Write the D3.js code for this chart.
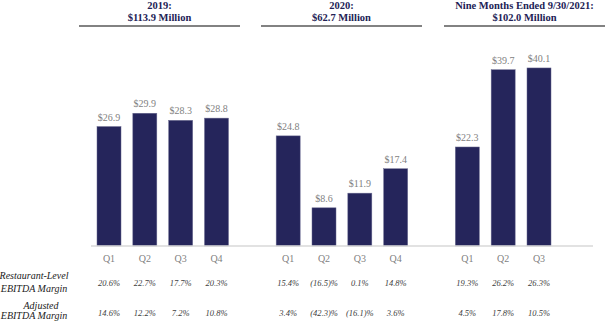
<!DOCTYPE html>
<html><head><meta charset="utf-8">
<script src="https://cdn.jsdelivr.net/npm/d3@7/dist/d3.min.js"></script>
<style>body{margin:0;background:#fff}svg{display:block}svg text{font-family:"Liberation Serif","Times New Roman","DejaVu Serif",serif}</style>
</head><body>
<svg id="c" width="605" height="324"></svg>
<script>
// ---- data ----
const periods = ["2019", "2020", "2021"];
const periodTitles = ["2019:", "2020:", "Nine Months Ended 9/30/2021:"];
const periodTotals = ["$113.9 Million", "$62.7 Million", "$102.0 Million"];
const quarters2019 = ["Q1", "Q2", "Q3", "Q4"];
const quarters2020 = ["Q1", "Q2", "Q3", "Q4"];
const quarters2021 = ["Q1", "Q2", "Q3"];
const values2019 = [26.9, 29.9, 28.3, 28.8];
const values2020 = [24.8, 8.6, 11.9, 17.4];
const values2021 = [22.3, 39.7, 40.1];
const rlMargin2019 = ["20.6%", "22.7%", "17.7%", "20.3%"];
const rlMargin2020 = ["15.4%", "(16.5)%", "0.1%", "14.8%"];
const rlMargin2021 = ["19.3%", "26.2%", "26.3%"];
const adjMargin2019 = ["14.6%", "12.2%", "7.2%", "10.8%"];
const adjMargin2020 = ["3.4%", "(42.3)%", "(16.1)%", "3.6%"];
const adjMargin2021 = ["4.5%", "17.8%", "10.5%"];
const rowLabels = [["Restaurant-Level", "EBITDA Margin"], ["Adjusted", "EBITDA Margin"]];

// ---- build rows ----
const groups = [
  {p: "2019", q: quarters2019, v: values2019, r: rlMargin2019, a: adjMargin2019},
  {p: "2020", q: quarters2020, v: values2020, r: rlMargin2020, a: adjMargin2020},
  {p: "2021", q: quarters2021, v: values2021, r: rlMargin2021, a: adjMargin2021}
];
const rows = [];
const domain = [];
groups.forEach((g, gi) => {
  g.q.forEach((q, i) => {
    const key = g.p + q;
    domain.push(key);
    rows.push({key, q, v: g.v[i], r: g.r[i], a: g.a[i]});
  });
  if (gi < groups.length - 1) domain.push("gap" + gi);
});

const svg = d3.select("#c");
const x = d3.scalePoint().domain(domain).range([109, 539]);
const y = d3.scaleLinear().domain([0, 50]).range([246, 24]);
const bw = 24;

// headers
const headerCenters = [159.5, 341.5, 524.5];
const headerWidth = 161;
periods.forEach((p, i) => {
  const cx = headerCenters[i];
  svg.append("text").attr("x", cx).attr("y", 9).attr("text-anchor", "middle")
    .attr("font-weight", "bold").attr("font-size", 10.5)
    .attr("fill", "#222255").text(periodTitles[i]);
  svg.append("text").attr("x", cx).attr("y", 21).attr("text-anchor", "middle")
    .attr("font-weight", "bold").attr("font-size", 10.5)
    .attr("fill", "#222255").text(periodTotals[i]);
  svg.append("line").attr("x1", cx - headerWidth / 2).attr("x2", cx + headerWidth / 2)
    .attr("y1", 26).attr("y2", 26).attr("stroke", "#595959").attr("stroke-width", 1.5);
});

// bars
svg.selectAll("rect.bar").data(rows).enter().append("rect")
  .attr("class", "bar")
  .attr("x", d => x(d.key) - bw / 2).attr("width", bw)
  .attr("y", d => y(d.v)).attr("height", d => y(0) - y(d.v))
  .attr("fill", "#25255b").attr("stroke", "#6a6a90").attr("stroke-width", 0.5);

// value labels
svg.selectAll("text.val").data(rows).enter().append("text")
  .attr("x", d => x(d.key)).attr("y", d => y(d.v) - 6)
  .attr("text-anchor", "middle").attr("font-size", 10)
  .attr("fill", "#7f7f7f").text(d => "$" + d.v.toFixed(1));

// baseline
svg.append("line").attr("x1", 91).attr("x2", 593).attr("y1", y(0)).attr("y2", y(0))
  .attr("stroke", "#d9d9d9").attr("stroke-width", 1.5);

// quarter labels
svg.selectAll("text.q").data(rows).enter().append("text")
  .attr("x", d => x(d.key)).attr("y", 262)
  .attr("text-anchor", "middle").attr("font-size", 10)
  .attr("fill", "#7f7f7f").text(d => d.q);

// margins
svg.selectAll("text.r").data(rows).enter().append("text")
  .attr("x", d => x(d.key)).attr("y", 285.5)
  .attr("text-anchor", "middle").attr("font-style", "italic")
  .attr("font-size", 8.5).attr("fill", "#404040").text(d => d.r);
svg.selectAll("text.a").data(rows).enter().append("text")
  .attr("x", d => x(d.key)).attr("y", 315.5)
  .attr("text-anchor", "middle").attr("font-style", "italic")
  .attr("font-size", 8.5).attr("fill", "#404040").text(d => d.a);

// row labels
const rowLabelPos = [[[34, 278.5], [34, 292]], [[41, 308.5], [34, 318.5]]];
rowLabels.forEach((lines, i) => {
  lines.forEach((t, j) => {
    svg.append("text").attr("x", rowLabelPos[i][j][0]).attr("y", rowLabelPos[i][j][1])
      .attr("text-anchor", "middle").attr("font-style", "italic")
      .attr("font-size", 10).attr("fill", "#222").text(t);
  });
});
</script>
</body></html>
